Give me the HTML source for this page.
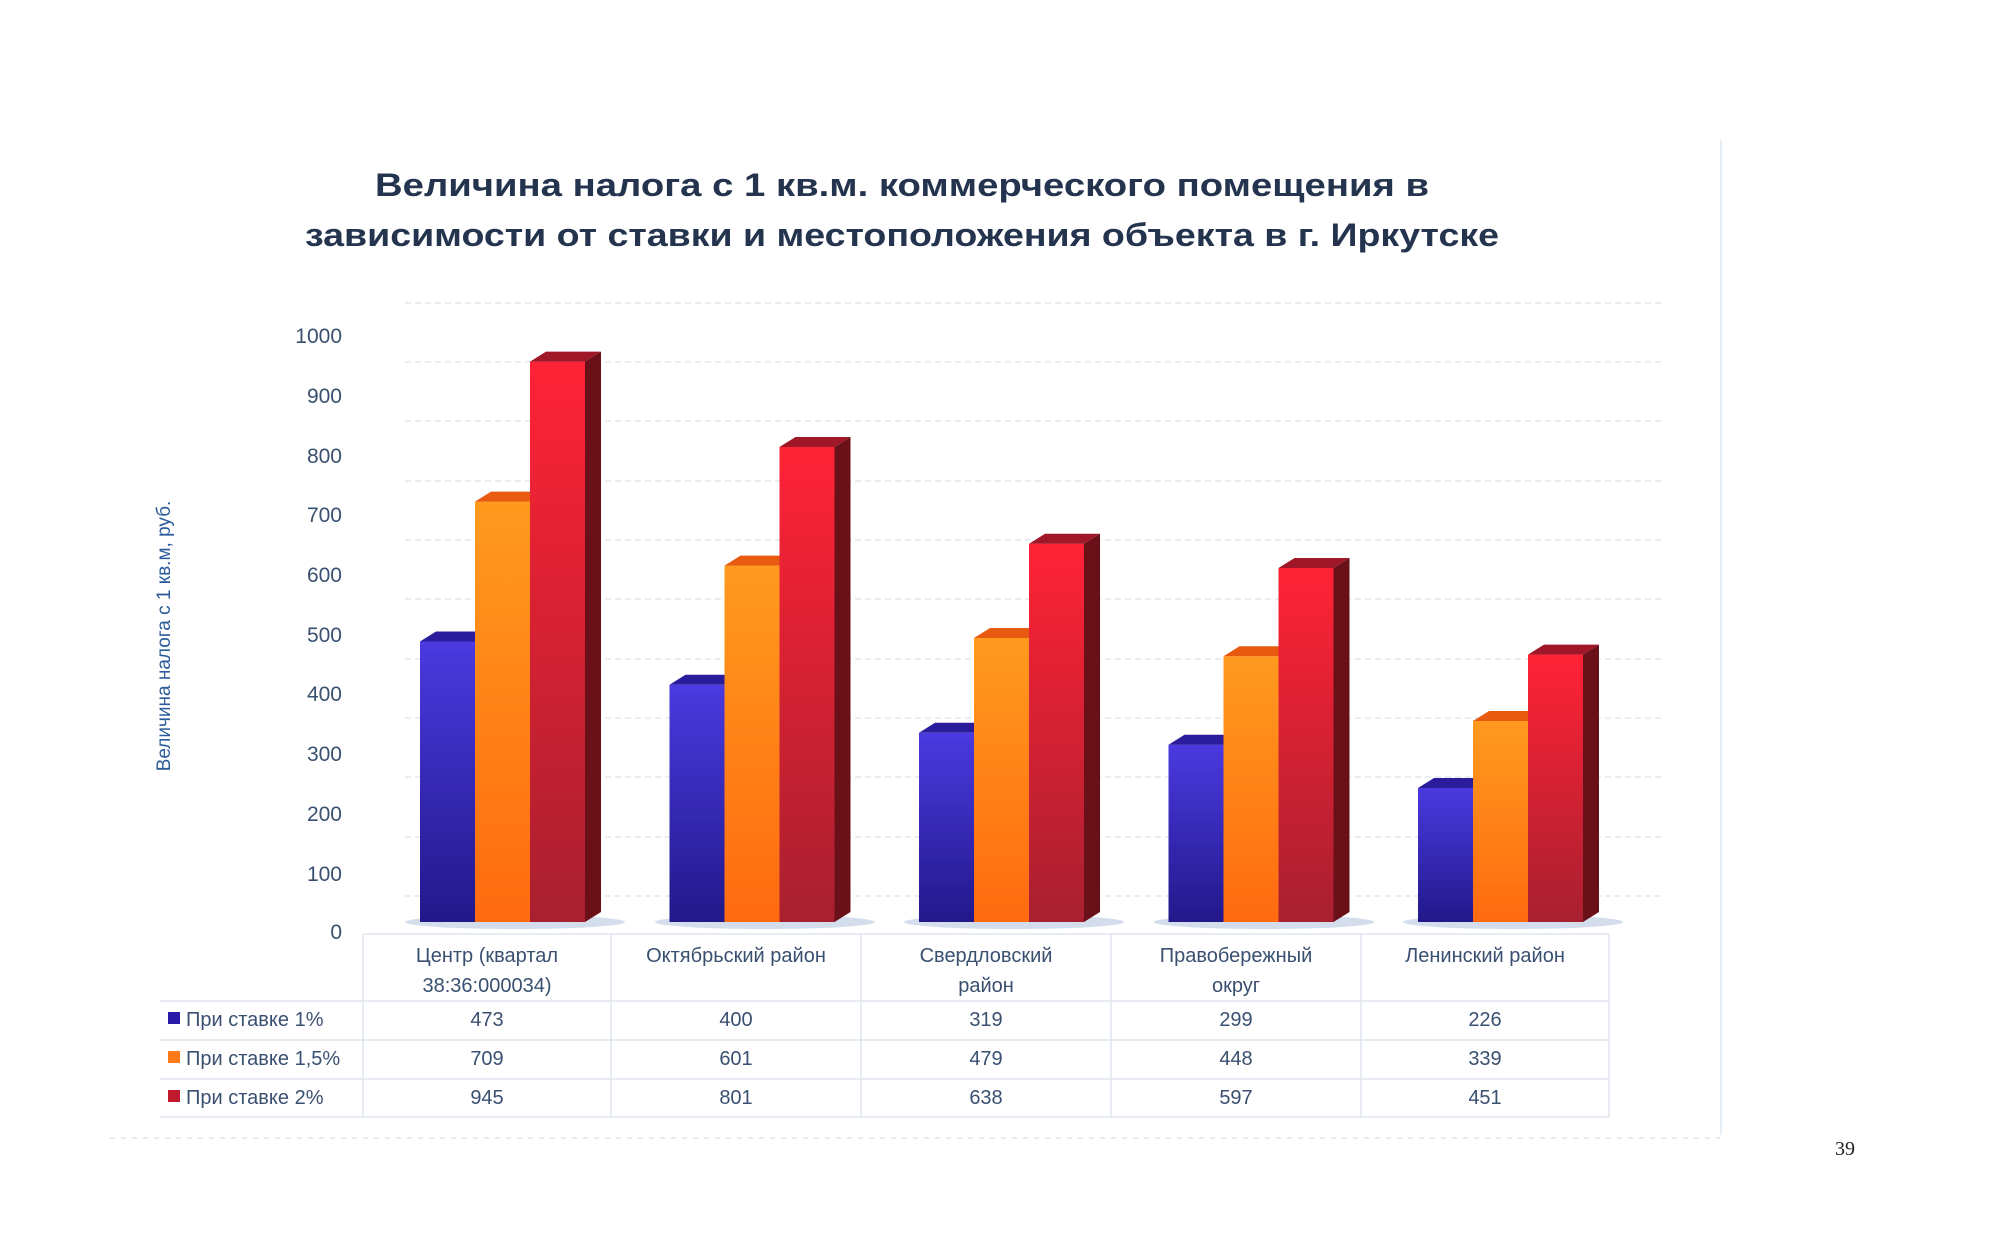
<!DOCTYPE html>
<html><head><meta charset="utf-8"><style>
html,body{margin:0;padding:0;background:#fff;}
svg{display:block;}
text{font-family:"Liberation Sans",sans-serif;}
</style></head><body>
<svg width="1993" height="1244" viewBox="0 0 1993 1244" xmlns="http://www.w3.org/2000/svg">
<defs>
<linearGradient id="gb" x1="0" y1="0" x2="0" y2="1"><stop offset="0" stop-color="#4a3ae0"/><stop offset="1" stop-color="#22188a"/></linearGradient>
<linearGradient id="go" x1="0" y1="0" x2="0" y2="1"><stop offset="0" stop-color="#ff9a1e"/><stop offset="1" stop-color="#ff6a10"/></linearGradient>
<linearGradient id="gr" x1="0" y1="0" x2="0" y2="1"><stop offset="0" stop-color="#ff2236"/><stop offset="1" stop-color="#a82030"/></linearGradient>
</defs>
<rect width="1993" height="1244" fill="#fff"/>
<text x="902" y="196" font-size="32" font-weight="bold" fill="#24344e" text-anchor="middle" textLength="1054" lengthAdjust="spacingAndGlyphs">Величина налога с 1 кв.м. коммерческого помещения в</text>
<text x="902" y="246" font-size="32" font-weight="bold" fill="#24344e" text-anchor="middle" textLength="1194" lengthAdjust="spacingAndGlyphs">зависимости от ставки и местоположения объекта в г. Иркутске</text>
<g stroke="#e4e8ee" stroke-width="1.5" stroke-dasharray="6 4">
<line x1="405" y1="303" x2="1665" y2="303"/>
<line x1="405" y1="362" x2="1665" y2="362"/><line x1="405" y1="421" x2="1665" y2="421"/>
<line x1="405" y1="481" x2="1665" y2="481"/><line x1="405" y1="540" x2="1665" y2="540"/>
<line x1="405" y1="599" x2="1665" y2="599"/><line x1="405" y1="659" x2="1665" y2="659"/>
<line x1="405" y1="718" x2="1665" y2="718"/><line x1="405" y1="777" x2="1665" y2="777"/>
<line x1="405" y1="837" x2="1665" y2="837"/><line x1="405" y1="896" x2="1665" y2="896"/>
</g>
<line x1="1721" y1="140" x2="1721" y2="1135" stroke="#e6eef4" stroke-width="2"/>
<g font-size="21" fill="#3a5070" text-anchor="end">
<text x="342" y="343">1000</text><text x="342" y="403">900</text><text x="342" y="463">800</text>
<text x="342" y="522">700</text><text x="342" y="582">600</text><text x="342" y="642">500</text>
<text x="342" y="701">400</text><text x="342" y="761">300</text><text x="342" y="821">200</text>
<text x="342" y="881">100</text><text x="342" y="939">0</text>
</g>
<text transform="translate(170,636) rotate(-90)" font-size="19" fill="#2a5b9a" text-anchor="middle">Величина налога с 1 кв.м, руб.</text>
<g fill="#c8d4e6" opacity="0.8">
<ellipse cx="515" cy="922" rx="110" ry="7"/><ellipse cx="765" cy="922" rx="110" ry="7"/>
<ellipse cx="1014" cy="922" rx="110" ry="7"/><ellipse cx="1264" cy="922" rx="110" ry="7"/>
<ellipse cx="1513" cy="922" rx="110" ry="7"/>
</g>
<g transform="translate(420,641.5)"><rect width="55" height="280.5" fill="url(#gb)"/><polygon points="0,0 16,-10 71,-10 55,0" fill="#2a1c9a"/></g>
<g transform="translate(475,501.6)"><rect width="55" height="420.4" fill="url(#go)"/><polygon points="0,0 16,-10 71,-10 55,0" fill="#e85a10"/></g>
<g transform="translate(530,361.6)"><rect width="55" height="560.4" fill="url(#gr)"/><polygon points="0,0 16,-10 71,-10 55,0" fill="#a01828"/><polygon points="55,0 71,-10 71,550.4 55,560.4" fill="#6a1018"/></g>
<g transform="translate(669.5,684.8)"><rect width="55" height="237.2" fill="url(#gb)"/><polygon points="0,0 16,-10 71,-10 55,0" fill="#2a1c9a"/></g>
<g transform="translate(724.5,565.6)"><rect width="55" height="356.4" fill="url(#go)"/><polygon points="0,0 16,-10 71,-10 55,0" fill="#e85a10"/></g>
<g transform="translate(779.5,447)"><rect width="55" height="475" fill="url(#gr)"/><polygon points="0,0 16,-10 71,-10 55,0" fill="#a01828"/><polygon points="55,0 71,-10 71,465 55,475" fill="#6a1018"/></g>
<g transform="translate(919,732.8)"><rect width="55" height="189.2" fill="url(#gb)"/><polygon points="0,0 16,-10 71,-10 55,0" fill="#2a1c9a"/></g>
<g transform="translate(974,638)"><rect width="55" height="284" fill="url(#go)"/><polygon points="0,0 16,-10 71,-10 55,0" fill="#e85a10"/></g>
<g transform="translate(1029,543.7)"><rect width="55" height="378.3" fill="url(#gr)"/><polygon points="0,0 16,-10 71,-10 55,0" fill="#a01828"/><polygon points="55,0 71,-10 71,368.3 55,378.3" fill="#6a1018"/></g>
<g transform="translate(1168.5,744.7)"><rect width="55" height="177.3" fill="url(#gb)"/><polygon points="0,0 16,-10 71,-10 55,0" fill="#2a1c9a"/></g>
<g transform="translate(1223.5,656.3)"><rect width="55" height="265.7" fill="url(#go)"/><polygon points="0,0 16,-10 71,-10 55,0" fill="#e85a10"/></g>
<g transform="translate(1278.5,568)"><rect width="55" height="354" fill="url(#gr)"/><polygon points="0,0 16,-10 71,-10 55,0" fill="#a01828"/><polygon points="55,0 71,-10 71,344 55,354" fill="#6a1018"/></g>
<g transform="translate(1418,788)"><rect width="55" height="134" fill="url(#gb)"/><polygon points="0,0 16,-10 71,-10 55,0" fill="#2a1c9a"/></g>
<g transform="translate(1473,721)"><rect width="55" height="201" fill="url(#go)"/><polygon points="0,0 16,-10 71,-10 55,0" fill="#e85a10"/></g>
<g transform="translate(1528,654.6)"><rect width="55" height="267.4" fill="url(#gr)"/><polygon points="0,0 16,-10 71,-10 55,0" fill="#a01828"/><polygon points="55,0 71,-10 71,257.4 55,267.4" fill="#6a1018"/></g>
<g stroke="#dde6ee" stroke-width="1.5">
<line x1="363" y1="934" x2="1609" y2="934"/>
<line x1="160" y1="1001" x2="1609" y2="1001"/>
<line x1="160" y1="1040" x2="1609" y2="1040"/>
<line x1="160" y1="1079" x2="1609" y2="1079"/>
<line x1="160" y1="1117" x2="1609" y2="1117"/>
<line x1="363" y1="934" x2="363" y2="1117"/><line x1="611" y1="934" x2="611" y2="1117"/>
<line x1="861" y1="934" x2="861" y2="1117"/><line x1="1111" y1="934" x2="1111" y2="1117"/>
<line x1="1361" y1="934" x2="1361" y2="1117"/><line x1="1609" y1="934" x2="1609" y2="1117"/>
<line x1="110" y1="1138" x2="1720" y2="1138" stroke-dasharray="5 6"/>
</g>
<g font-size="20" fill="#3a5070" text-anchor="middle">
<text x="487" y="962">Центр (квартал</text><text x="487" y="992">38:36:000034)</text>
<text x="736" y="962">Октябрьский район</text>
<text x="986" y="962">Свердловский</text><text x="986" y="992">район</text>
<text x="1236" y="962">Правобережный</text><text x="1236" y="992">округ</text>
<text x="1485" y="962">Ленинский район</text>
<text x="487" y="1026">473</text><text x="736" y="1026">400</text><text x="986" y="1026">319</text><text x="1236" y="1026">299</text><text x="1485" y="1026">226</text>
<text x="487" y="1065">709</text><text x="736" y="1065">601</text><text x="986" y="1065">479</text><text x="1236" y="1065">448</text><text x="1485" y="1065">339</text>
<text x="487" y="1104">945</text><text x="736" y="1104">801</text><text x="986" y="1104">638</text><text x="1236" y="1104">597</text><text x="1485" y="1104">451</text>
</g>
<g font-size="20" fill="#3a5070">
<rect x="168" y="1012" width="12" height="12" fill="#2a1aa8"/><text x="186" y="1026">При ставке 1%</text>
<rect x="168" y="1051" width="12" height="12" fill="#ff7a18"/><text x="186" y="1065">При ставке 1,5%</text>
<rect x="168" y="1090" width="12" height="12" fill="#c0182c"/><text x="186" y="1104">При ставке 2%</text>
</g>
<text x="1835" y="1155" font-size="20" fill="#222" style="font-family:'Liberation Serif',serif">39</text>
</svg>
</body></html>
